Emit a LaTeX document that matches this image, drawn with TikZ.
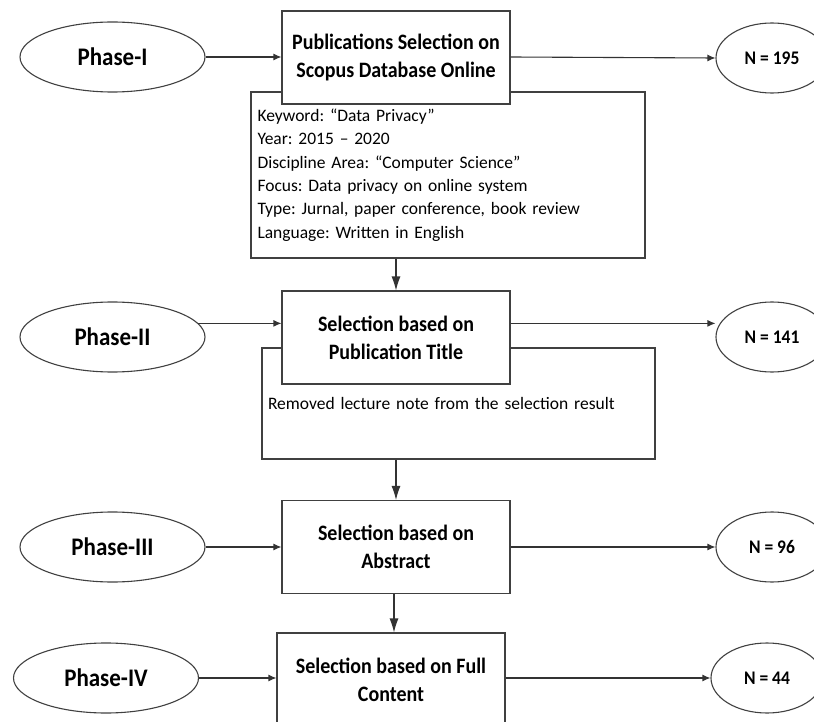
\documentclass[tikz,border=0pt]{standalone}
\usepackage{graphicx}
\usepackage{fontspec}
\setmainfont{Carlito}
\frenchspacing
\usetikzlibrary{positioning,shapes.geometric,arrows.meta}

\newcommand{\tall}[1]{\scalebox{1}[1.1]{#1}}

\tikzset{
  phase/.style={ellipse, draw=black!75, line width=1.1pt, minimum width=185pt, minimum height=70pt, inner sep=0pt, font=\fontsize{23}{26}\selectfont\bfseries},
  result/.style={ellipse, draw=black!75, line width=1.1pt, minimum width=112pt, minimum height=70pt, inner sep=0pt, font=\fontsize{17.5}{20}\selectfont\bfseries},
  stage/.style={rectangle, draw=black!75, fill=white, line width=1.1pt, minimum width=228pt, minimum height=93pt, inner sep=0pt, align=center, font=\fontsize{20}{27.7}\selectfont\bfseries},
  detail/.style={rectangle, draw=black!75, line width=1.1pt, align=left, inner ysep=0pt, font=\fontsize{17.5}{23.4}\selectfont},
  hedge/.style={-{Latex[length=8pt,width=7pt]}, draw=black!80, line width=1.1pt},
  vedge/.style={-{Latex[length=14pt,width=9pt]}, draw=black!80, line width=1.1pt}
}

\begin{document}
\begin{tikzpicture}[x=1pt, y=-1pt]
\useasboundingbox (0,0) rectangle (814,722);

\node[detail, minimum height=166pt, text width=381pt, inner xsep=6.5pt] at (448,175) (det1) {Keyword: “Data Privacy”\\
Year: 2015 -- 2020\\
Discipline Area: “Computer Science”\\
Focus: Data privacy on online system\\
Type: Jurnal, paper conference, book review\\
Language: Written in English};
\node[detail, minimum height=111pt, text width=381pt, inner xsep=6pt] at (458.5,403.5) (det2) {Removed lecture note from the selection result};

\node[phase] at (112.5,57) (ph1) {\tall{Phase-I}};
\node[phase] at (112.5,337) (ph2) {\tall{Phase-II}};
\node[phase] at (112.5,547) (ph3) {\tall{Phase-III}};
\node[phase] at (106,678) (ph4) {\tall{Phase-IV}};

\node[stage] at (396,57.5) (st1) {\tall{Publications Selection on}\\\tall{Scopus Database Online}};
\node[stage] at (396,337.5) (st2) {\tall{Selection based on}\\\tall{Publication Title}};
\node[stage] at (396,547) (st3) {\tall{Selection based on}\\\tall{Abstract}};
\node[stage] at (391,679.5) (st4) {\tall{Selection based on Full}\\\tall{Content}};

\node[result] at (772,58) (n1) {\tall{N = 195}};
\node[result] at (772,337) (n2) {\tall{N = 141}};
\node[result] at (772,547) (n3) {\tall{N = 96}};
\node[result] at (767,678) (n4) {\tall{N = 44}};

\draw[hedge] (ph1.east) -- (ph1.east -| st1.west);
\draw[hedge] (ph1.east -| st1.east) -- (n1.west);
\draw[hedge] (ph2.9) -- (ph2.9 -| st2.west);
\draw[hedge] (ph2.9 -| st2.east) -- (ph2.9 -| n2.west);
\draw[hedge] (ph3.east) -- (ph3.east -| st3.west);
\draw[hedge] (st3.east |- n3.west) -- (n3.west);
\draw[hedge] (ph4.east) -- (ph4.east -| st4.west);
\draw[hedge] (st4.east |- n4.west) -- (n4.west);

\draw[vedge] (det1.south -| st2.north) -- (st2.north);
\draw[vedge] (det2.south -| st3.north) -- (st3.north);
\draw[vedge] ([xshift=-2pt]st3.south) -- ([xshift=-2pt]st3.south |- st4.north);
\end{tikzpicture}
\end{document}
